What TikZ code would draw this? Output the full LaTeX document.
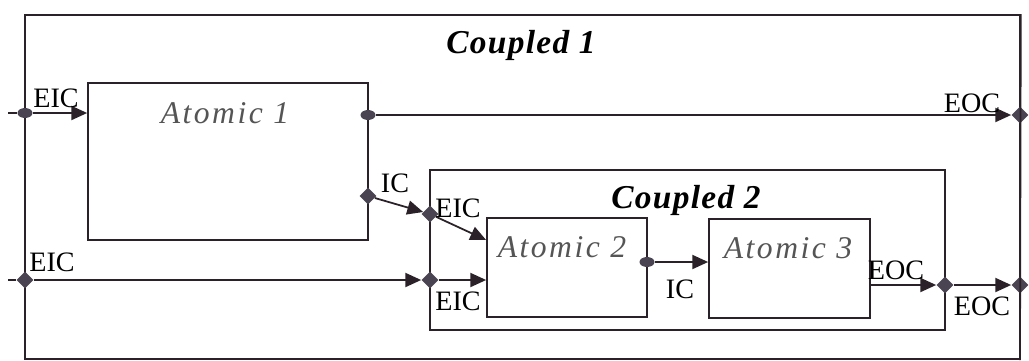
\documentclass[tikz,border=0pt]{standalone}
\usepackage{fontspec}
\setmainfont{Liberation Serif}
\usetikzlibrary{arrows.meta,shapes.geometric}
\definecolor{portgray}{HTML}{4A4452}
\definecolor{linedark}{HTML}{2A2228}
\definecolor{labgray}{HTML}{555555}

\begin{document}
\begin{tikzpicture}[x=0.02cm,y=-0.02cm,>={Triangle[length=9pt,width=8pt]},
  box/.style={draw=linedark,line width=1pt,inner sep=0pt},
  pdia/.style={diamond,fill=portgray,inner sep=0pt,minimum size=0.34cm},
  pround/.style={ellipse,fill=portgray,inner sep=0pt,minimum width=0.3cm,minimum height=0.2cm},
  conn/.style={linedark,line width=1pt},
  tag/.style={font=\fontsize{16}{18}\selectfont,inner sep=1pt},
  aname/.style={font=\fontsize{18}{20}\selectfont\itshape\addfontfeatures{LetterSpace=8},text=labgray},
  cname/.style={font=\fontsize{19}{21}\selectfont\bfseries\itshape\addfontfeatures{LetterSpace=4}}]
 \useasboundingbox (0,0) rectangle (1029,360);
 % models
 \node[box,minimum width=19.9cm,minimum height=6.88cm] (c1) at (522.5,187) {};
 \node[box,minimum width=5.6cm,minimum height=3.14cm] (a1) at (228,161.5) {};
 \node[box,minimum width=10.3cm,minimum height=3.2cm] (c2) at (687.5,250) {};
 \node[box,minimum width=3.2cm,minimum height=1.98cm] (a2) at (567,267.5) {};
 \node[box,minimum width=3.22cm,minimum height=1.98cm] (a3) at (789.5,268.5) {};
 \node[cname] (t1) at (521,45) {Coupled 1};
 \node[cname] (t2) at (686,200) {Coupled 2};
 \node[aname] (n1) at (225,113) {Atomic 1};
 \node[aname] (n2) at (562,247) {Atomic 2};
 \node[aname] (n3) at (788,248) {Atomic 3};
 % ports
 \coordinate (in1) at (8,113);
 \coordinate (in2) at (8,280);
 \node[pround] (p1) at (25,113) {};
 \node[pround] (p2) at (368,115) {};
 \node[pdia] (p3) at (368,196) {};
 \node[pdia] (p4) at (430,214) {};
 \node[pdia] (p5) at (25,280) {};
 \node[pdia] (p6) at (430,280) {};
 \node[pround] (p7) at (647,262) {};
 \node[pdia] (p8) at (945,285) {};
 \node[pdia] (p9) at (1020,285) {};
 \node[pdia] (q1) at (1020,115) {};
 % couplings
 \draw[conn] (in1)--(p1);
 \draw[conn,->] (p1)--(p1 -| a1.west);
 \draw[conn,->] (p2)--(q1);
 \draw[conn,->] (p3)--(p4);
 \draw[conn,->] (p4)--(a2.west |- 0,240);
 \draw[conn] (in2)--(p5);
 \draw[conn,->] (p5)--(p6);
 \draw[conn,->] (p6)--(p6 -| a2.west);
 \draw[conn,->] (p7)--(p7 -| a3.west);
 \draw[conn,->] (a3.east |- p8)--(p8);
 \draw[conn,->] (p8)--(p9);
 \draw[conn] (c1.north east)--(1020,360);
 % labels
 \node[tag] (l1) at (56,98) {EIC};
 \node[tag] (l2) at (972,103) {EOC};
 \node[tag] (l3) at (395,183) {IC};
 \node[tag] (l4) at (458,208) {EIC};
 \node[tag] (l5) at (52,262) {EIC};
 \node[tag] (l6) at (458,301) {EIC};
 \node[tag] (l7) at (680,289) {IC};
 \node[tag] (l8) at (896,270) {EOC};
 \node[tag] (l9) at (982,306) {EOC};
\end{tikzpicture}
\end{document}
